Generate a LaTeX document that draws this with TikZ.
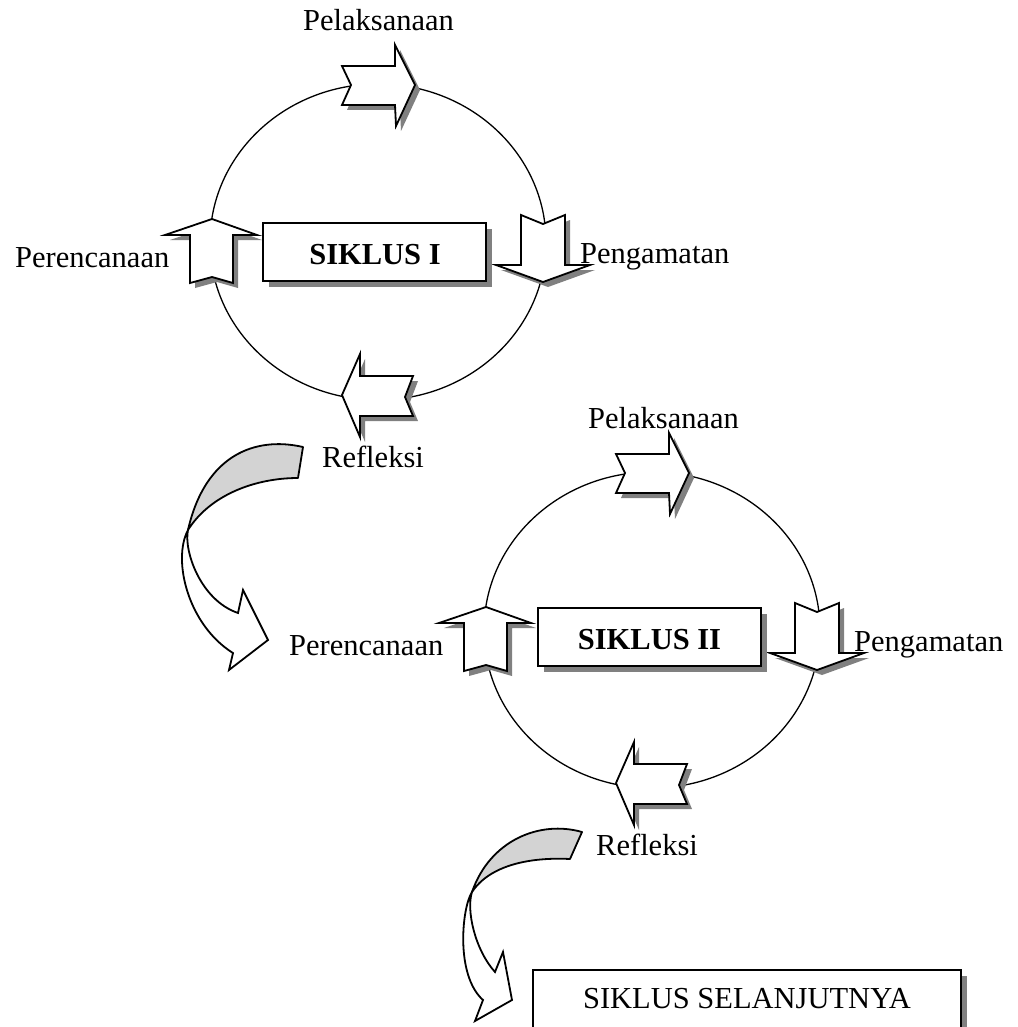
\documentclass[tikz,border=0pt]{standalone}
\usepackage{fontspec}
\setmainfont{Liberation Serif}
\definecolor{shadowgray}{RGB}{128,128,128}
\definecolor{ribbongray}{RGB}{211,211,211}
\tikzset{
  blk/.style={draw=black, fill=white, line width=1.8pt, line join=miter},
  shd/.style={fill=shadowgray, draw=none},
  ring/.style={draw=black, line width=1.3pt},
  lbl/.style={font=\fontsize{30.5}{36}\selectfont, inner sep=0pt, anchor=base west},
  boxtxt/.style={font=\fontsize{30.5}{36}\selectfont, inner sep=0pt, anchor=base},
  rarr/.pic={
    \fill[shd,shift={(5,5)}] (0,0) -- (-9,-19) -- (44,-19) -- (44,-40) -- (64,0) -- (45,41) -- (44,20) -- (-9,20) -- cycle;
    \draw[blk] (0,0) -- (-9,-19) -- (44,-19) -- (44,-40) -- (64,0) -- (45,41) -- (44,20) -- (-9,20) -- cycle;
  },
  uarr/.pic={
    \fill[shd,shift={(5,5)}] (0,0) -- (45,16) -- (21,16) -- (21,64) -- (0,58) -- (-22,64) -- (-22,16) -- (-47,16) -- cycle;
    \draw[blk] (0,0) -- (45,16) -- (21,16) -- (21,64) -- (0,58) -- (-22,64) -- (-22,16) -- (-47,16) -- cycle;
  },
  darr/.pic={
    \fill[shd,shift={(5,5)}] (0,0) -- (-47,-17) -- (-22,-17) -- (-22,-67) -- (0,-58) -- (22,-67) -- (22,-17) -- (47,-17) -- cycle;
    \draw[blk] (0,0) -- (-47,-17) -- (-22,-17) -- (-22,-67) -- (0,-58) -- (22,-67) -- (22,-17) -- (47,-17) -- cycle;
  },
  larr/.pic={
    \fill[shd,shift={(5,5)}] (0,0) -- (18,-41) -- (18,-19) -- (71,-19) -- (63,2) -- (71,21) -- (18,21) -- (18,42) -- cycle;
    \draw[blk] (0,0) -- (18,-41) -- (18,-19) -- (71,-19) -- (63,2) -- (71,21) -- (18,21) -- (18,42) -- cycle;
  }
}
\begin{document}
\begin{tikzpicture}[x=1pt,y=-1pt]
\clip (0,0) rectangle (1017,1027);
\fill[white] (0,0) rectangle (1017,1027);

% ---------- cycle I ----------
\begin{scope}
  \draw[ring] (378,242) ellipse [x radius=168, y radius=158];
  \pic at (351,85) {rarr};
  \pic at (212,219) {uarr};
  \pic at (543,282) {darr};
  \pic at (342,395) {larr};
  \fill[shd] (269,229) rectangle (492,287);
  \draw[blk] (263,223) rectangle (486,281);
  \node[boxtxt, font=\fontsize{30.5}{36}\selectfont\bfseries] (s1) at (375,264) {SIKLUS I};
  \node[lbl] (pel1) at (303,31) {Pelaksanaan};
  \node[lbl] (per1) at (15,267) {Perencanaan};
  \node[lbl] (pen1) at (580,263) {Pengamatan};
  \node[lbl] (ref1) at (322,467) {Refleksi};
\end{scope}

% ---------- cycle II ----------
\begin{scope}[shift={(274,388)}]
  \draw[ring] (378,242) ellipse [x radius=168, y radius=158];
  \pic at (351,85) {rarr};
  \pic at (212,219) {uarr};
  \pic at (543,282) {darr};
  \pic at (342,395) {larr};
\end{scope}
\fill[shd] (544,614) rectangle (767,672);
\draw[blk] (538,608) rectangle (761,666);
\node[boxtxt, font=\fontsize{30.5}{36}\selectfont\bfseries] (s2) at (649.5,649) {SIKLUS II};
\node[lbl] (pel2) at (588,428) {Pelaksanaan};
\node[lbl] (per2) at (289,655) {Perencanaan};
\node[lbl] (pen2) at (854,651) {Pengamatan};
\node[lbl] (ref2) at (596,855) {Refleksi};

% ---------- curved arrow 1 ----------
\filldraw[fill=ribbongray, draw=black, line width=1.8pt, line join=round]
  (303,447) .. controls (255,436) and (205,455) .. (188,530)
  .. controls (210,495) and (255,478) .. (298,478) -- cycle;
\filldraw[fill=white, draw=black, line width=1.8pt, line join=miter]
  (188,530) .. controls (172,560) and (188,625) .. (233,653)
  -- (229,670) -- (268,640) -- (243,590) -- (238,613)
  .. controls (200,600) and (183.5,550) .. (188,530) -- cycle;

% ---------- curved arrow 2 ----------
\filldraw[fill=ribbongray, draw=black, line width=1.8pt, line join=round]
  (582,832) .. controls (540,820) and (490,840) .. (472,892)
  .. controls (490,865) and (530,857) .. (570,859) -- cycle;
\filldraw[fill=white, draw=black, line width=1.8pt, line join=miter]
  (472,892) .. controls (462,907) and (455,975) .. (483,1000)
  -- (475,1021) -- (512,1000) -- (503,952) -- (495,972)
  .. controls (475,950) and (466,910) .. (472,892) -- cycle;

% ---------- next cycle box ----------
\fill[shd] (539,976) rectangle (967,1045);
\draw[blk] (533,970) rectangle (961,1040);
\node[boxtxt] (next) at (747,1008) {SIKLUS SELANJUTNYA};
\end{tikzpicture}
\end{document}
